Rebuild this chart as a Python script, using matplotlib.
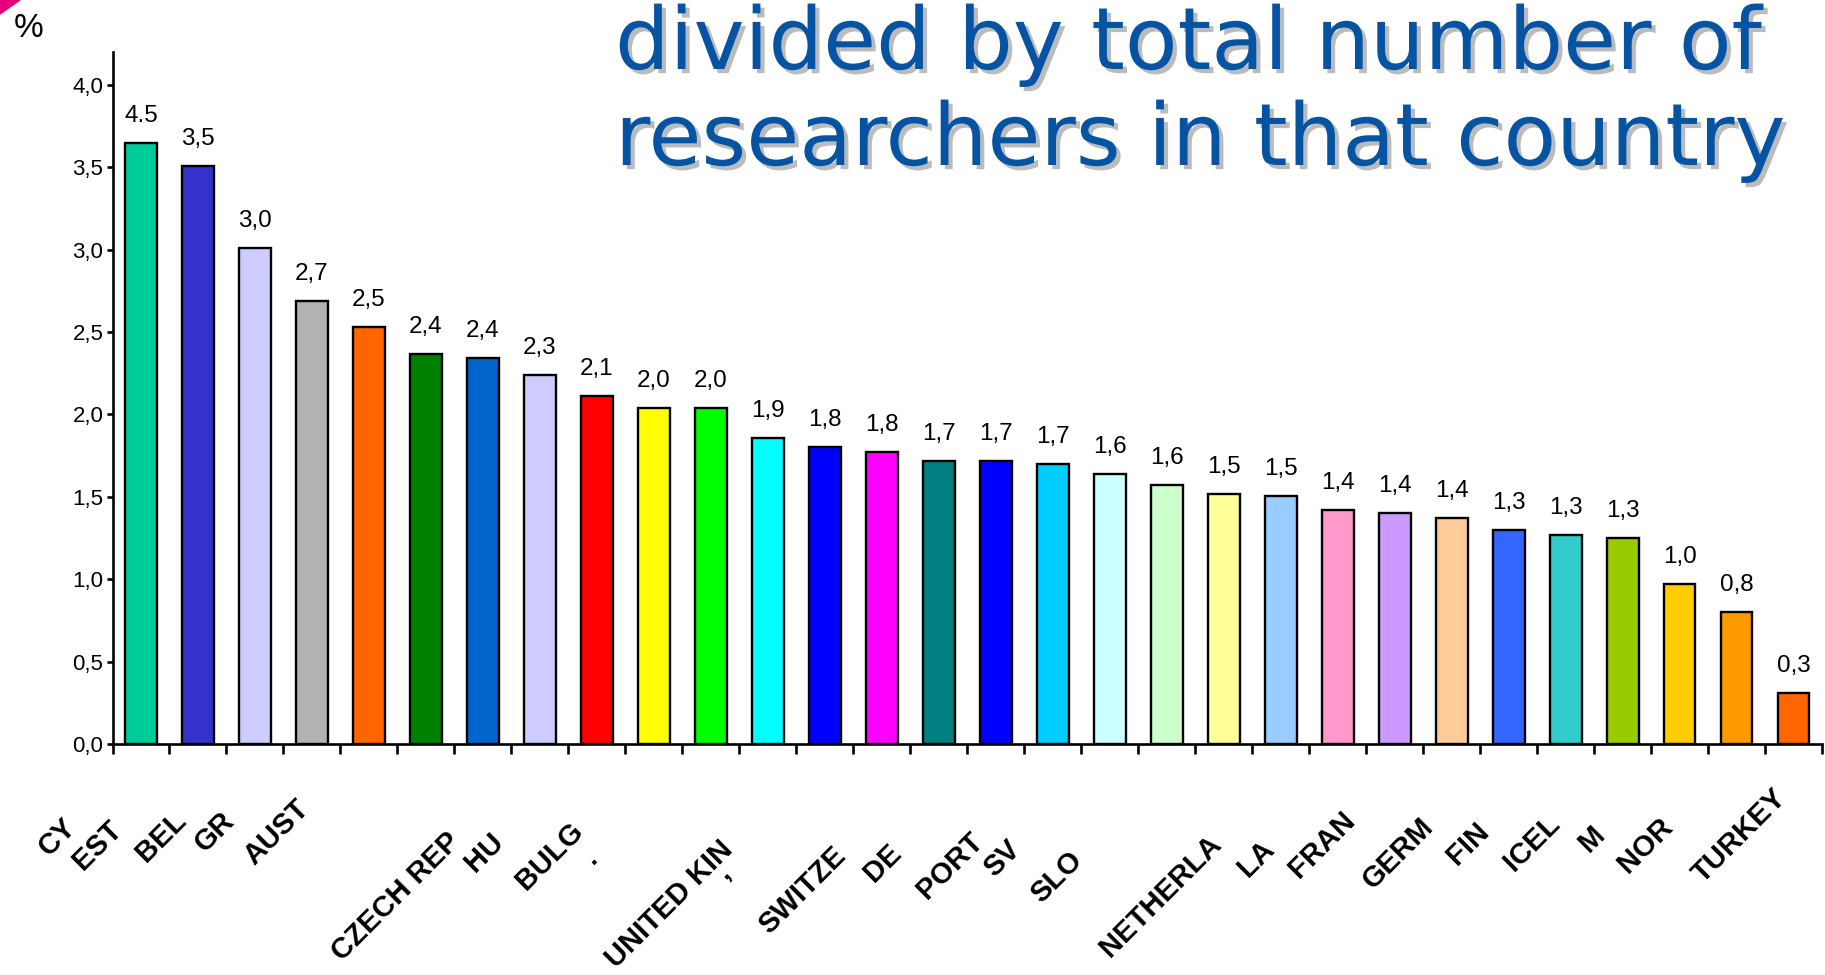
import matplotlib
matplotlib.use('Agg')
import matplotlib.pyplot as plt
import matplotlib.patheffects as pe
from matplotlib.patches import Polygon

# bar heights (the printed labels don't always match them)
values = [3.65, 3.51, 3.01, 2.69, 2.53, 2.37, 2.34, 2.24, 2.11, 2.04,
          2.04, 1.86, 1.80, 1.77, 1.72, 1.72, 1.70, 1.64, 1.57, 1.52,
          1.505, 1.42, 1.40, 1.37, 1.30, 1.27, 1.25, 0.97, 0.80, 0.31]
value_labels = ['4.5', '3,5', '3,0', '2,7', '2,5', '2,4', '2,4', '2,3', '2,1', '2,0',
                '2,0', '1,9', '1,8', '1,8', '1,7', '1,7', '1,7', '1,6', '1,6', '1,5',
                '1,5', '1,4', '1,4', '1,4', '1,3', '1,3', '1,3', '1,0', '0,8', '0,3']
# country names as they show up (cut off) under the axis
countries = ['CY', 'EST', 'BEL', 'GR', 'AUST', '', '', 'CZECH REP', 'HU', 'BULG',
             '.', '', 'UNITED KIN', ',', 'SWITZE', 'DE', 'PORT', 'SV', 'SLO', '',
             'NETHERLA', 'LA', 'FRAN', '', 'GERM', 'FIN', 'ICEL', 'M', 'NOR', 'TURKEY']
colors = ['#00CC99', '#3333CC', '#CCCCFF', '#B2B2B2', '#FF6600', '#008000', '#0066CC', '#CCCCFF',
          '#FF0000', '#FFFF00', '#00FF00', '#00FFFF', '#0000FF', '#FF00FF', '#008080', '#0000FF',
          '#00CCFF', '#CCFFFF', '#CCFFCC', '#FFFF99', '#99CCFF', '#FF99CC', '#CC99FF', '#FFCC99',
          '#3366FF', '#33CCCC', '#99CC00', '#FFCC00', '#FF9900', '#FF6600']
y_ticks = [0.0, 0.5, 1.0, 1.5, 2.0, 2.5, 3.0, 3.5, 4.0]
y_tick_labels = ['0,0', '0,5', '1,0', '1,5', '2,0', '2,5', '3,0', '3,5', '4,0']

# pixel offsets of the rotated country labels from their tick (x left, y down)
label_dx = [64, 75, 68, 76, 59, 0, 0, 79, 92, 69, 112, 0, 91, 151, 92, 93, 68, 88, 83, 0,
            58, 62, 38, 0, 74, 75, 62, 73, 63, 6]
label_dy = [84, 87, 78, 78, 66, 0, 0, 99, 99, 89, 115, 0, 107, 130, 113, 110, 99, 107, 118, 0,
            101, 107, 78, 0, 84, 89, 81, 92, 84, 55]

W, H = 1825, 975
fig = plt.figure(figsize=(W / 100, H / 100), dpi=100)
ax = fig.add_axes([112.5 / W, 1 - 744 / H, (1822 - 112.5) / W, (744 - 52) / H])

x = list(range(len(values)))
ax.bar(x, values, width=0.56, color=colors, edgecolor='black', linewidth=1.7, zorder=3)

ax.set_xlim(-0.5, len(values) - 0.5)
ax.set_ylim(0, 4.2)

for s in ['top', 'right']:
    ax.spines[s].set_visible(False)
for s in ['left', 'bottom']:
    ax.spines[s].set_linewidth(1.9)

ax.set_yticks(y_ticks)
ax.set_yticklabels(y_tick_labels, fontsize=16, family='Liberation Sans')
ax.tick_params(axis='y', direction='out', length=4.5, width=1.9, pad=2)

# ticks sit between the categories
ax.set_xticks([i - 0.5 for i in range(len(values) + 1)])
ax.set_xticklabels([])
ax.tick_params(axis='x', direction='out', length=7.5, width=1.9)

for i, (v, lab) in enumerate(zip(values, value_labels)):
    ax.annotate(lab, (i, v), xytext=(0, 21), textcoords='offset pixels',
                ha='center', va='baseline', fontsize=17.5, family='Liberation Sans')

for i, name in enumerate(countries):
    if not name:
        continue
    ax.annotate(name, (i, 0), xytext=(-label_dx[i], -label_dy[i]), textcoords='offset pixels',
                rotation=45, rotation_mode='anchor', ha='right', va='baseline',
                fontsize=21, fontweight='bold', family='Liberation Sans',
                annotation_clip=False)

fig.text(14 / W, 1 - 37 / H, '%', fontsize=24, family='Liberation Sans', va='baseline')

shadow = [pe.SimplePatchShadow(offset=(3, -3), shadow_rgbFace='#BBBBBB', alpha=1.0), pe.Normal()]
fig.text(615 / W, 1 - 69 / H, 'divided by total number of', fontsize=62, color='#0553A3',
         family='DejaVu Sans', va='baseline', path_effects=shadow)
fig.text(615 / W, 1 - 165 / H, 'researchers in that country', fontsize=62, color='#0553A3',
         family='DejaVu Sans', va='baseline', path_effects=shadow)

fig.patches.append(Polygon([(0, 1), (20 / W, 1), (0, 1 - 14 / H)], closed=True,
                           transform=fig.transFigure, color='#E4007C'))

fig.savefig('out.png', dpi=100)
